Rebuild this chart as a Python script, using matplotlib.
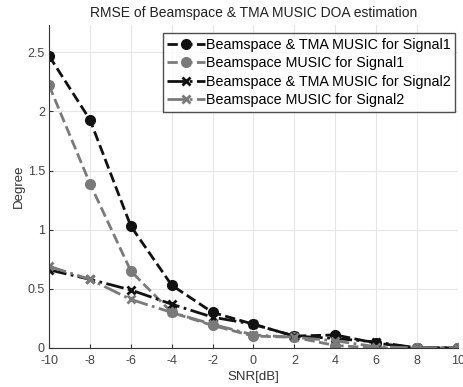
import matplotlib
matplotlib.use("Agg")
import matplotlib.pyplot as plt

plt.rcParams['font.family'] = ['Liberation Sans', 'DejaVu Sans']
plt.rcParams['axes.unicode_minus'] = False

snr = [-10, -8, -6, -4, -2, 0, 2, 4, 6, 8, 10]
tma_sig1 = [2.47, 1.93, 1.03, 0.53, 0.30, 0.20, 0.10, 0.11, 0.04, 0.0, 0.0]
bs_sig1 = [2.22, 1.39, 0.65, 0.30, 0.19, 0.10, 0.09, 0.02, 0.0, 0.0, 0.0]
tma_sig2 = [0.66, 0.58, 0.49, 0.37, 0.26, 0.20, 0.10, 0.08, 0.05, 0.0, 0.0]
bs_sig2 = [0.69, 0.58, 0.41, 0.30, 0.20, 0.11, 0.09, 0.06, 0.01, 0.0, 0.0]
labels = ["Beamspace & TMA MUSIC for Signal1",
          "Beamspace MUSIC for Signal1",
          "Beamspace & TMA MUSIC for Signal2",
          "Beamspace MUSIC for Signal2"]
xticks = [-10, -8, -6, -4, -2, 0, 2, 4, 6, 8, 10]
yticks = [0, 0.5, 1, 1.5, 2, 2.5]

fig = plt.figure(figsize=(4.63, 3.87), dpi=100)
ax = fig.add_axes([0.106, 0.101, 0.883, 0.834])

black = '#111111'
grey = '#7a7a7a'
ax.plot(snr, tma_sig1, '--', color=black, marker='o', ms=7, lw=2, label=labels[0])
ax.plot(snr, bs_sig1, '--', color=grey, marker='o', ms=7, lw=2, label=labels[1])
ax.plot(snr, tma_sig2, '-.', color=black, marker='x', ms=6, mew=2, lw=2, label=labels[2])
ax.plot(snr, bs_sig2, '-.', color=grey, marker='x', ms=6, mew=2, lw=2, label=labels[3])

ax.set_xlim(-10, 10)
ax.set_ylim(0, 2.73)
ax.set_xticks(xticks)
ax.set_yticks(yticks)
ax.set_yticklabels(['0', '0.5', '1', '1.5', '2', '2.5'])
ax.grid(True, color='#e6e6e6', lw=0.8)
ax.set_axisbelow(True)
for s in ['top', 'right']:
    ax.spines[s].set_visible(False)
for s in ['left', 'bottom']:
    ax.spines[s].set_color('#333333')
ax.tick_params(direction='in', length=3, labelsize=9, colors='#333333', labelcolor='#444444')
ax.tick_params(axis='x', pad=5)
ax.tick_params(axis='y', pad=3)
ax.set_xlabel('SNR[dB]', fontsize=9.5, color='#333333', labelpad=3)
ax.set_ylabel('Degree', fontsize=9.5, color='#333333', labelpad=2)
ax.set_title('RMSE of Beamspace & TMA MUSIC DOA estimation', fontsize=10, color='#222222', pad=6)

leg = ax.legend(loc='upper right', bbox_to_anchor=(0.993, 0.975), fontsize=10.3, frameon=True,
                fancybox=False, edgecolor='#222222', handlelength=2.6, handletextpad=0.1,
                borderpad=0.3, labelspacing=0.32, borderaxespad=0)
leg.get_frame().set_linewidth(1.0)

fig.savefig('out.png', dpi=100)
